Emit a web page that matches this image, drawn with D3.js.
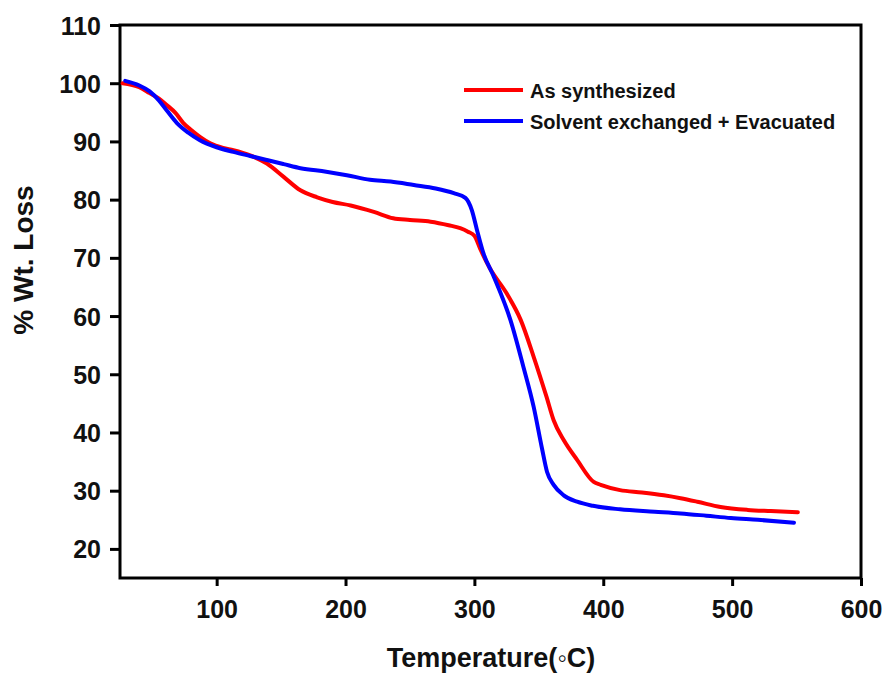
<!DOCTYPE html>
<html>
<head>
<meta charset="utf-8">
<script src="https://cdn.jsdelivr.net/npm/d3@7"></script>
<style>
  html, body { margin: 0; padding: 0; background: #fff; }
  svg { display: block; font-family: "Liberation Sans", Arial, sans-serif; }
</style>
</head>
<body>
<svg id="chart" width="887" height="675"></svg>
<script>
// ---- Data ----
const seriesNames = ["As synthesized", "Solvent exchanged + Evacuated"];
const seriesColors = ["#ff0000", "#0000ff"];

const redT = [27, 40, 48, 55, 61, 68, 74, 80, 87, 95, 105, 113, 126, 139, 152, 165, 178, 190, 204, 222, 237, 250, 266, 280, 289, 295, 300, 305, 312, 325, 336, 346, 356, 361.5, 369.3, 379.7, 392.6, 398, 413, 430, 447, 460, 473, 491, 512, 530, 551];
const redW = [100, 99.3, 98.3, 97.4, 96.3, 94.9, 93.2, 92, 90.8, 89.7, 88.9, 88.5, 87.6, 86.2, 83.9, 81.6, 80.4, 79.6, 79, 77.9, 76.8, 76.5, 76.2, 75.6, 75.1, 74.5, 73.8, 71.3, 68.2, 63.9, 59.3, 53, 46.1, 42.1, 38.7, 35.3, 31.5, 31, 30.1, 29.7, 29.2, 28.7, 28.1, 27.2, 26.7, 26.5, 26.3];

const blueT = [29, 40, 48, 55, 61, 69, 78, 87, 100, 113, 126, 139, 152, 165, 185, 201, 219, 235, 253, 270, 284, 293, 298, 302, 307, 315, 328, 338, 346, 352.5, 356.4, 361.5, 369.3, 379.7, 392, 413, 440, 460, 480, 499, 520, 548];
const blueW = [100.4, 99.6, 98.6, 97.1, 95.4, 93.2, 91.5, 90.2, 89, 88.2, 87.5, 86.8, 86.1, 85.4, 84.8, 84.2, 83.4, 83.1, 82.5, 81.9, 81.1, 80.3, 78.2, 74.8, 70.8, 66.8, 59.3, 51.3, 44.4, 37.2, 33.2, 31, 29.2, 28.1, 27.4, 26.8, 26.4, 26.1, 25.7, 25.3, 25, 24.5];

const xTicks = [100, 200, 300, 400, 500, 600];
const yTicks = [20, 30, 40, 50, 60, 70, 80, 90, 100, 110];
const xDomain = [25, 600];
const yDomain = [15, 110];

// ---- Layout ----
const svg = d3.select("#chart");
const mLeft = 120, mRight = 861, mTop = 25, mBottom = 578;

const x = d3.scaleLinear().domain(xDomain).range([mLeft, mRight]);
const y = d3.scaleLinear().domain(yDomain).range([mBottom, mTop]);

// Frame
svg.append("rect")
  .attr("x", mLeft).attr("y", mTop)
  .attr("width", mRight - mLeft).attr("height", mBottom - mTop)
  .attr("fill", "none").attr("stroke", "#000").attr("stroke-width", 3);

// Axes
const xAxis = d3.axisBottom(x).tickValues(xTicks).tickSize(8).tickPadding(14).tickFormat(d3.format("d"));
const yAxis = d3.axisLeft(y).tickValues(yTicks).tickSize(10).tickPadding(9).tickFormat(d3.format("d"));

const gx = svg.append("g").attr("transform", `translate(0,${mBottom})`).call(xAxis);
const gy = svg.append("g").attr("transform", `translate(${mLeft},0)`).call(yAxis);
[gx, gy].forEach(g => {
  g.select(".domain").remove();
  g.selectAll(".tick line").attr("stroke", "#000").attr("stroke-width", 3);
  g.selectAll(".tick text").attr("fill", "#111").attr("font-size", 25).attr("font-weight", "bold")
    .attr("font-family", "'Liberation Sans', Arial, sans-serif");
});
gy.selectAll(".tick text").attr("dy", "0.36em");
gx.selectAll(".tick text").attr("dy", "0.72em");

// Axis titles
svg.append("text")
  .attr("x", 491).attr("y", 667)
  .attr("text-anchor", "middle")
  .attr("font-size", 27).attr("font-weight", "bold").attr("fill", "#111")
  .text("Temperature(\u25E6C)");

svg.append("text")
  .attr("transform", "translate(33,260) rotate(-90)")
  .attr("text-anchor", "middle")
  .attr("font-size", 28).attr("font-weight", "bold").attr("fill", "#111")
  .text("% Wt. Loss");

// Lines
const line = d3.line().x(d => x(d[0])).y(d => y(d[1])).curve(d3.curveMonotoneX);
const seriesData = [
  d3.zip(redT, redW),
  d3.zip(blueT, blueW)
];
seriesData.forEach((data, i) => {
  svg.append("path")
    .datum(data)
    .attr("d", line)
    .attr("fill", "none")
    .attr("stroke", seriesColors[i])
    .attr("stroke-width", 4)
    .attr("stroke-linejoin", "round")
    .attr("stroke-linecap", "round");
});

// Legend
const legendY = [90, 121];
seriesNames.forEach((name, i) => {
  svg.append("line")
    .attr("x1", 464).attr("x2", 523)
    .attr("y1", legendY[i]).attr("y2", legendY[i])
    .attr("stroke", seriesColors[i]).attr("stroke-width", 4);
  svg.append("text")
    .attr("x", 530).attr("y", legendY[i] + 7.5)
    .attr("font-size", 20).attr("font-weight", "bold").attr("fill", "#111")
    .text(name);
});
</script>
</body>
</html>
